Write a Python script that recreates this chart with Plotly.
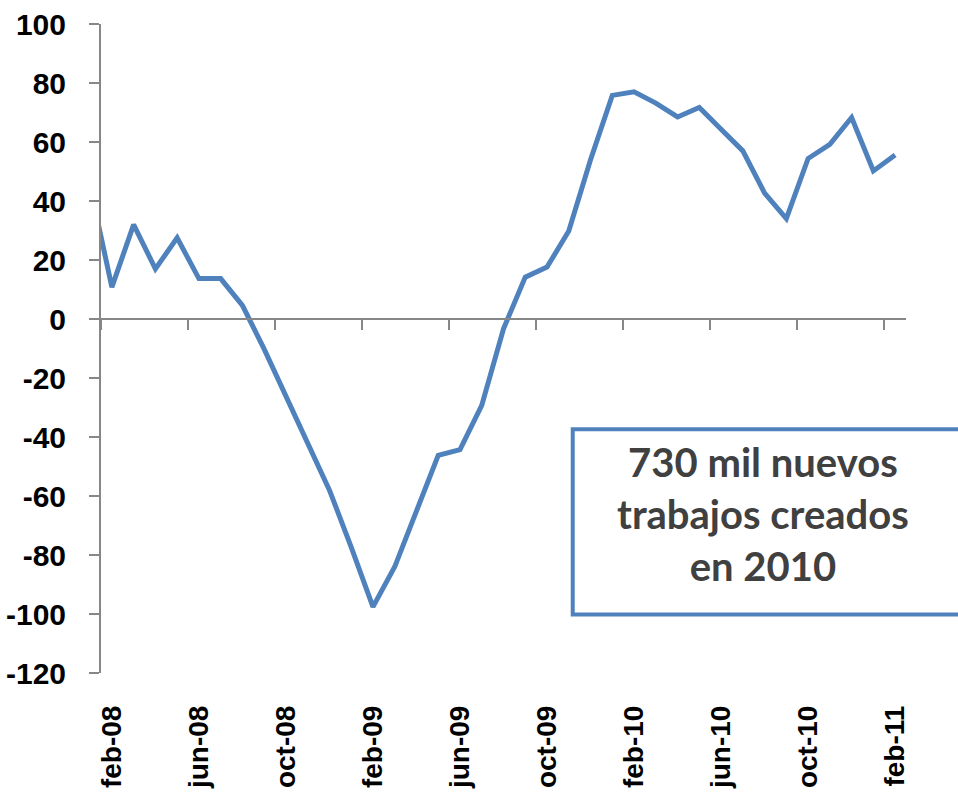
import plotly.graph_objects as go

months = ["ene-08", "feb-08", "mar-08", "abr-08", "may-08", "jun-08", "jul-08", "ago-08",
          "sep-08", "oct-08", "nov-08", "dic-08",
          "ene-09", "feb-09", "mar-09", "abr-09", "may-09", "jun-09", "jul-09", "ago-09",
          "sep-09", "oct-09", "nov-09", "dic-09",
          "ene-10", "feb-10", "mar-10", "abr-10", "may-10", "jun-10", "jul-10", "ago-10",
          "sep-10", "oct-10", "nov-10", "dic-10",
          "ene-11", "feb-11"]

values = [45, 10.8, 32, 17, 27.5, 13.7, 13.7, 4.6,
          -10.2, -26, -42, -58,
          -77.3, -97.6, -84, -65.4, -46.2, -44.3, -29.3, -3.3,
          14.2, 17.6, 29.8, 54,
          75.8, 77, 73.2, 68.5, 71.7, 64.3, 57, 42.7,
          34, 54.4, 59.2, 68.3,
          50.2, 55.6]

label_step = 4
first_label = 1  # feb-08

y_ticks = [-120, -100, -80, -60, -40, -20, 0, 20, 40, 60, 80, 100]
y_tick_text = [str(v) for v in y_ticks]

x_idx = list(range(len(months)))
label_idx = x_idx[first_label::label_step]
label_txt = [months[i] for i in label_idx]
boundary_idx = [i - 0.5 for i in label_idx]

y_min, y_max = y_ticks[0], y_ticks[-1]

blue = "#4F81BD"
axis_gray = "#878787"

fig = go.Figure()
fig.add_trace(go.Scatter(x=x_idx, y=values, mode="lines",
                         line=dict(color=blue, width=5),
                         hoverinfo="skip", showlegend=False))
# invisible companion trace so the zero-crossing axis is drawn
fig.add_trace(go.Scatter(x=x_idx, y=values, mode="lines", xaxis="x2",
                         line=dict(color="rgba(0,0,0,0)", width=0),
                         hoverinfo="skip", showlegend=False))

x_range = [first_label - 0.5, len(months) - 0.5]

fig.update_layout(
    width=958, height=798,
    margin=dict(l=101, r=52, t=24, b=125),
    paper_bgcolor="white", plot_bgcolor="white",
    xaxis=dict(range=x_range, tickmode="array", tickvals=label_idx, ticktext=label_txt,
               tickangle=-90, showline=False, ticks="", showgrid=False, zeroline=False,
               automargin=False,
               tickfont=dict(family="Liberation Sans", size=28, color="black", weight="bold"),
               ticklabelstandoff=26),
    xaxis2=dict(range=x_range, overlaying="x", anchor="free",
                position=(0 - y_min) / (y_max - y_min),
                tickmode="array", tickvals=boundary_idx, showticklabels=False,
                ticks="outside", ticklen=10, tickwidth=2, tickcolor=axis_gray,
                showline=True, linecolor=axis_gray, linewidth=2,
                showgrid=False, zeroline=False, automargin=False),
    yaxis=dict(range=[y_min, y_max], tickmode="array", tickvals=y_ticks, ticktext=y_tick_text,
               ticks="outside", ticklen=10, tickwidth=2, tickcolor=axis_gray,
               showline=True, linecolor=axis_gray, linewidth=2,
               showgrid=False, zeroline=False, automargin=False,
               tickfont=dict(family="Liberation Sans", size=30, color="black", weight="bold"),
               ticklabelstandoff=17),
)

fig.add_shape(type="rect", xref="paper", yref="paper",
              x0=0.586, x1=1.075, y0=0.09, y1=0.3755,
              line=dict(color=blue, width=4), fillcolor="white", layer="above")

fig.add_annotation(xref="paper", yref="paper", x=0.8224, y=0.245,
                   text="730 mil nuevos<br>trabajos creados<br>en 2010",
                   showarrow=False, align="center", xanchor="center", yanchor="middle",
                   font=dict(family="Lato", size=40, color="#404040", weight="bold"))

fig.write_html("out.html",
               config={"displayModeBar": False, "staticPlot": True},
               post_script="document.body.style.margin='0';document.body.style.overflow='hidden';")
